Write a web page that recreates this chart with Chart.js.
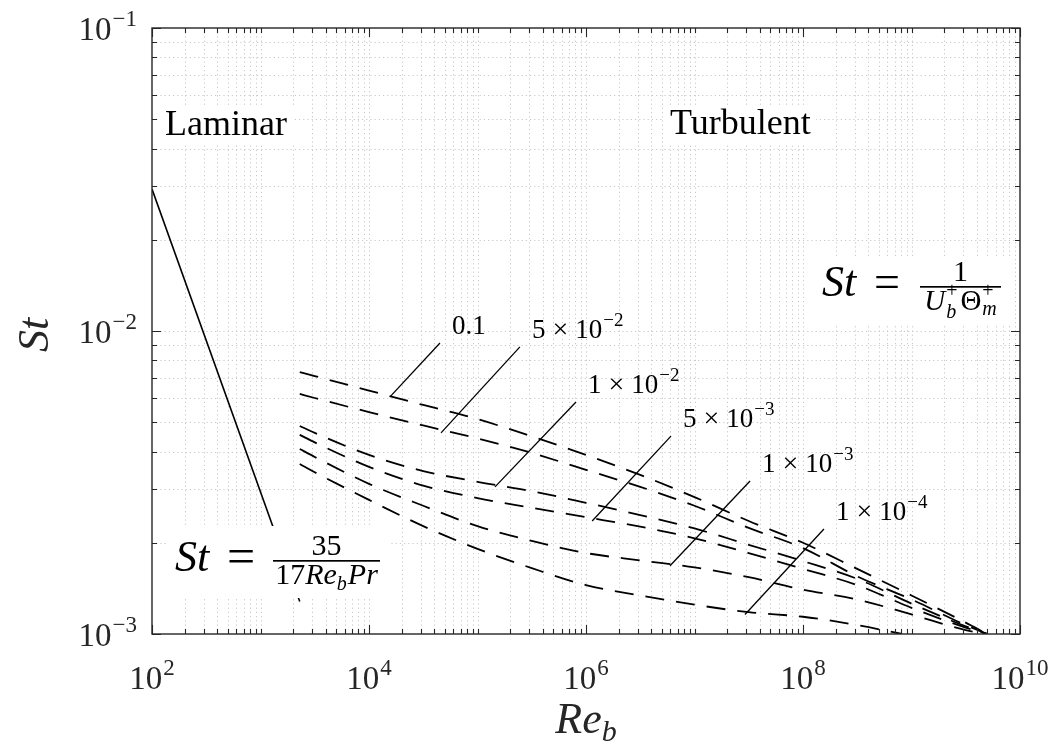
<!DOCTYPE html>
<html>
<head>
<meta charset="utf-8">
<title>St vs Re_b</title>
<script src="https://cdn.jsdelivr.net/npm/chart.js@4.4.1/dist/chart.umd.min.js"></script>
<style>
html,body{margin:0;padding:0;background:#ffffff;}
#box{width:1056px;height:744px;}
canvas{display:block;}
</style>
</head>
<body>
<div id="box"><canvas id="chart" width="1056" height="744"></canvas></div>
<script>
// ---------------- data ----------------
const reLaminar = [1e2, 2.3e3];
const stLaminar = [2.94e-2, 1.28e-3];

const reTurb = [2.3e3, 3.16e3, 1e4, 3.16e4, 1e5, 3.16e5, 1e6, 3.16e6, 1e7, 3.16e7, 1e8, 3.16e8, 1e9, 3.16e9, 5e9];
const stCurve01   = [7.32e-3, 7.10e-3, 6.36e-3, 5.70e-3, 5.12e-3, 4.49e-3, 3.90e-3, 3.35e-3, 2.83e-3, 2.36e-3, 2.00e-3, 1.64e-3, 1.34e-3, 1.09e-3, 1.00e-3];
const stCurve5e2  = [6.20e-3, 6.01e-3, 5.40e-3, 4.88e-3, 4.42e-3, 3.96e-3, 3.48e-3, 3.06e-3, 2.65e-3, 2.24e-3, 1.92e-3, 1.55e-3, 1.30e-3, 1.07e-3, 1.00e-3];
const stCurve1e2  = [4.86e-3, 4.61e-3, 3.90e-3, 3.45e-3, 3.18e-3, 2.96e-3, 2.71e-3, 2.47e-3, 2.23e-3, 1.97e-3, 1.74e-3, 1.52e-3, 1.26e-3, 1.06e-3, 1.00e-3];
const stCurve5e3  = [4.54e-3, 4.29e-3, 3.56e-3, 3.09e-3, 2.81e-3, 2.61e-3, 2.43e-3, 2.26e-3, 2.07e-3, 1.85e-3, 1.64e-3, 1.45e-3, 1.22e-3, 1.05e-3, 1.00e-3];
const stCurve1e3  = [4.08e-3, 3.84e-3, 3.13e-3, 2.65e-3, 2.27e-3, 2.03e-3, 1.85e-3, 1.75e-3, 1.66e-3, 1.54e-3, 1.40e-3, 1.30e-3, 1.16e-3, 1.03e-3, 1.00e-3];
const reCurve1e4  = [2.3e3, 3.16e3, 1e4, 3.16e4, 1e5, 3.16e5, 1e6, 3.16e6, 1e7, 3.16e7, 1e8, 3.16e8, 8.2e8];
const stCurve1e4  = [3.64e-3, 3.42e-3, 2.77e-3, 2.27e-3, 1.91e-3, 1.65e-3, 1.45e-3, 1.34e-3, 1.25e-3, 1.18e-3, 1.14e-3, 1.07e-3, 1.00e-3];

// leader lines: upper end (near label) and lower end (on the curve)
const leaderLabels = ['0.1', '5 × 10^−2', '1 × 10^−2', '5 × 10^−3', '1 × 10^−3', '1 × 10^−4'];
const leaderTopRe  = [4.51e4, 2.46e5, 8.09e5, 6.07e6, 3.25e7, 1.56e8];
const leaderTopSt  = [9.13e-3, 8.86e-3, 5.83e-3, 4.50e-3, 3.20e-3, 2.22e-3];
const leaderEndRe  = [1.56e4, 4.61e4, 1.45e5, 1.14e6, 5.95e6, 2.92e7];
const leaderEndSt  = [6.06e-3, 4.61e-3, 3.06e-3, 2.36e-3, 1.68e-3, 1.16e-3];

// axes
const xMin = 1e2, xMax = 1e10, yMin = 1e-3, yMax = 1e-1;
const xTickExponents = [2, 4, 6, 8, 10];
const yTickExponents = [-1, -2, -3];

// ---------------- helpers ----------------
const FONT = "'Liberation Serif','Times New Roman',serif";
const pts = (xs, ys) => xs.map((v, i) => ({x: v, y: ys[i]}));

function fontOf(r) { return (r.it ? 'italic ' : '') + r.size + 'px ' + FONT; }
function runsWidth(ctx, runs) {
  let w = 0;
  for (const r of runs) {
    if (r.stack) {
      let m = 0;
      for (const s of r.stack) { ctx.font = fontOf(s); m = Math.max(m, ctx.measureText(s.t).width); }
      w += m + (r.gap || 0);
    } else { ctx.font = fontOf(r); w += ctx.measureText(r.t).width + (r.gap || 0); }
  }
  return w;
}
function drawRuns(ctx, x, y, runs, align) {
  const w = runsWidth(ctx, runs);
  let cx = align === 'center' ? x - w / 2 : align === 'right' ? x - w : x;
  ctx.textAlign = 'left'; ctx.textBaseline = 'alphabetic';
  for (const r of runs) {
    if (r.stack) {
      let m = 0;
      for (const s of r.stack) { ctx.font = fontOf(s); ctx.fillText(s.t, cx, y + (s.dy || 0)); m = Math.max(m, ctx.measureText(s.t).width); }
      cx += m + (r.gap || 0);
    } else {
      ctx.font = fontOf(r); ctx.fillText(r.t, cx, y + (r.dy || 0));
      cx += ctx.measureText(r.t).width + (r.gap || 0);
    }
  }
  return w;
}
function powRuns(exp, size, supSize, raise) {
  return [{t: '10', size: size, gap: 1}, {t: String(exp).replace('-', '−'), size: supSize, dy: -raise}];
}
function labelRuns(str) {
  if (str.indexOf('^') < 0) return [{t: str, size: 27}];
  const [mant, exp] = str.split('^');
  const parts = mant.trim().split(' ');   // ['5','×','10']
  return [
    {t: parts[0], size: 27, gap: 7},
    {t: parts[1], size: 28, gap: 7},
    {t: parts[2], size: 27, gap: 1},
    {t: exp, size: 19, dy: -12}
  ];
}

// ticks / grid positions on the log axes
const xGridValues = [], yGridValues = [], xTickMarks = [], yTickMarks = [];
for (let e = Math.log10(xMin); e < Math.log10(xMax); e++) {
  for (let m = 1; m <= 9; m++) {
    const v = m * Math.pow(10, e);
    xTickMarks.push({v, major: m === 1 && xTickExponents.includes(e)});
    if (v > xMin) xGridValues.push(v);
  }
}
xTickMarks.push({v: xMax, major: true});
for (let e = Math.log10(yMin); e < Math.log10(yMax); e++) {
  for (let m = 1; m <= 9; m++) {
    const v = m * Math.pow(10, e);
    yTickMarks.push({v, major: m === 1});
    if (v > yMin) yGridValues.push(v);
  }
}
yTickMarks.push({v: yMax, major: true});

// ---------------- decoration plugin ----------------
const decor = {
  id: 'decor',
  beforeDatasetsDraw(chart) {
    const {ctx, chartArea: ca, scales: {x, y}} = chart;
    ctx.save();
    ctx.strokeStyle = '#c9c9c9'; ctx.lineWidth = 1; ctx.setLineDash([1.2, 3]);
    xGridValues.forEach(v => {
      const p = Math.round(x.getPixelForValue(v)) + 0.5;
      ctx.beginPath(); ctx.moveTo(p, ca.top); ctx.lineTo(p, ca.bottom); ctx.stroke();
    });
    yGridValues.forEach(v => {
      const p = Math.round(y.getPixelForValue(v)) + 0.5;
      ctx.beginPath(); ctx.moveTo(ca.left, p); ctx.lineTo(ca.right, p); ctx.stroke();
    });
    ctx.restore();
  },
  afterDatasetsDraw(chart) {
    const {ctx, chartArea: ca, scales: {x, y}} = chart;
    ctx.save();
    ctx.fillStyle = '#000';

    // --- text annotations with white background boxes ---
    const boxText = (bx, by, bw, bh) => { ctx.fillStyle = '#fff'; ctx.fillRect(bx, by, bw, bh); ctx.fillStyle = '#000'; };
    // Laminar
    boxText(ca.left + 8, ca.top + 77, 134, 38);
    drawRuns(ctx, ca.left + 13, ca.top + 107, [{t: 'Laminar', size: 36}], 'left');
    // Turbulent
    boxText(ca.left + 512, ca.top + 77, 152, 38);
    drawRuns(ctx, ca.left + 518, ca.top + 106, [{t: 'Turbulent', size: 36}], 'left');

    // Laminar correlation  St = 35 / (17 Re_b Pr)
    boxText(ca.left + 15, ca.top + 498, 222, 72);
    drawRuns(ctx, ca.left + 23, ca.top + 543, [{t: 'St', size: 44, it: true}], 'left');
    drawRuns(ctx, ca.left + 75, ca.top + 545, [{t: '=', size: 50}], 'left');
    ctx.fillRect(ca.left + 121, ca.top + 532, 107, 1.7);
    drawRuns(ctx, ca.left + 174.5, ca.top + 527, [{t: '35', size: 30}], 'center');
    drawRuns(ctx, ca.left + 174.5, ca.top + 556, [
      {t: '17', size: 30}, {t: 'Re', size: 30, it: true}, {t: 'b', size: 20, it: true, dy: 6, gap: 1},
      {t: 'Pr', size: 30, it: true}], 'center');

    // Turbulent definition  St = 1 / (U_b^+ Θ_m^+)
    boxText(ca.left + 656, ca.top + 229, 206, 68);
    drawRuns(ctx, ca.left + 670, ca.top + 268, [{t: 'St', size: 44, it: true}], 'left');
    drawRuns(ctx, ca.left + 722, ca.top + 269, [{t: '=', size: 46}], 'left');
    ctx.fillRect(ca.left + 768, ca.top + 258, 81, 1.7);
    drawRuns(ctx, ca.left + 808.5, ca.top + 253, [{t: '1', size: 30}], 'center');
    drawRuns(ctx, ca.left + 808.5, ca.top + 282, [
      {t: 'U', size: 29, it: true, gap: 1},
      {stack: [{t: '+', size: 20, dy: -13}, {t: 'b', size: 20, it: true, dy: 8}], gap: 3},
      {t: 'Θ', size: 29, gap: 1},
      {stack: [{t: '+', size: 20, dy: -13}, {t: 'm', size: 20, it: true, dy: 5}]}], 'center');

    // leader labels
    leaderLabels.forEach((lab, i) => {
      const px = x.getPixelForValue(leaderTopRe[i]) + 12;
      const py = y.getPixelForValue(leaderTopSt[i]) - 9;
      drawRuns(ctx, px, py, labelRuns(lab), 'left');
    });

    // --- axes box and inward ticks ---
    ctx.strokeStyle = '#262626'; ctx.lineWidth = 1.4; ctx.setLineDash([]);
    ctx.strokeRect(ca.left, ca.top, ca.right - ca.left, ca.bottom - ca.top);
    ctx.lineWidth = 1.1;
    xTickMarks.forEach(t => {
      const p = Math.round(x.getPixelForValue(t.v)) + 0.5, L = t.major ? 9 : 5;
      ctx.beginPath();
      ctx.moveTo(p, ca.bottom); ctx.lineTo(p, ca.bottom - L);
      ctx.moveTo(p, ca.top); ctx.lineTo(p, ca.top + L);
      ctx.stroke();
    });
    yTickMarks.forEach(t => {
      const p = Math.round(y.getPixelForValue(t.v)) + 0.5, L = t.major ? 9 : 5;
      ctx.beginPath();
      ctx.moveTo(ca.left, p); ctx.lineTo(ca.left + L, p);
      ctx.moveTo(ca.right, p); ctx.lineTo(ca.right - L, p);
      ctx.stroke();
    });

    // --- tick labels ---
    ctx.fillStyle = '#262626';
    xTickExponents.forEach(e => {
      const p = x.getPixelForValue(Math.pow(10, e));
      drawRuns(ctx, p, ca.bottom + 55, powRuns(e, 33, 23, 14), 'center');
    });
    yTickExponents.forEach(e => {
      const p = y.getPixelForValue(Math.pow(10, e));
      drawRuns(ctx, ca.left - 15, p + 12, powRuns(e, 33, 23, 14), 'right');
    });

    // --- axis titles ---
    drawRuns(ctx, (ca.left + ca.right) / 2, ca.bottom + 99, [
      {t: 'Re', size: 44, it: true}, {t: 'b', size: 30, it: true, dy: 8}], 'center');
    ctx.save();
    ctx.translate(ca.left - 104, (ca.top + ca.bottom) / 2 + 4);
    ctx.rotate(-Math.PI / 2);
    drawRuns(ctx, 0, 0, [{t: 'St', size: 44, it: true}], 'center');
    ctx.restore();

    ctx.restore();
  }
};

// ---------------- chart ----------------
const dashed = {borderColor: '#000', borderWidth: 1.8, borderDash: [19, 12], showLine: true,
                pointRadius: 0, fill: false, cubicInterpolationMode: 'monotone', clip: 0};
const solid = {borderColor: '#000', borderWidth: 1.3, showLine: true, pointRadius: 0, fill: false, clip: 0};

const datasets = [
  Object.assign({label: 'laminar', data: pts(reLaminar, stLaminar)}, solid, {borderWidth: 1.6}),
  Object.assign({label: '0.1', data: pts(reTurb, stCurve01)}, dashed),
  Object.assign({label: '5e-2', data: pts(reTurb, stCurve5e2)}, dashed),
  Object.assign({label: '1e-2', data: pts(reTurb, stCurve1e2)}, dashed),
  Object.assign({label: '5e-3', data: pts(reTurb, stCurve5e3)}, dashed),
  Object.assign({label: '1e-3', data: pts(reTurb, stCurve1e3)}, dashed),
  Object.assign({label: '1e-4', data: pts(reCurve1e4, stCurve1e4)}, dashed)
];
leaderLabels.forEach((lab, i) => {
  datasets.push(Object.assign({label: 'leader ' + lab,
    data: [{x: leaderEndRe[i], y: leaderEndSt[i]}, {x: leaderTopRe[i], y: leaderTopSt[i]}]}, solid));
});

new Chart(document.getElementById('chart'), {
  type: 'scatter',
  data: {datasets},
  options: {
    responsive: false,
    animation: false,
    layout: {padding: {left: 152, right: 36, top: 28, bottom: 110}},
    scales: {
      x: {type: 'logarithmic', min: xMin, max: xMax, display: false},
      y: {type: 'logarithmic', min: yMin, max: yMax, display: false}
    },
    plugins: {legend: {display: false}, tooltip: {enabled: false}}
  },
  plugins: [decor]
});
</script>
</body>
</html>
